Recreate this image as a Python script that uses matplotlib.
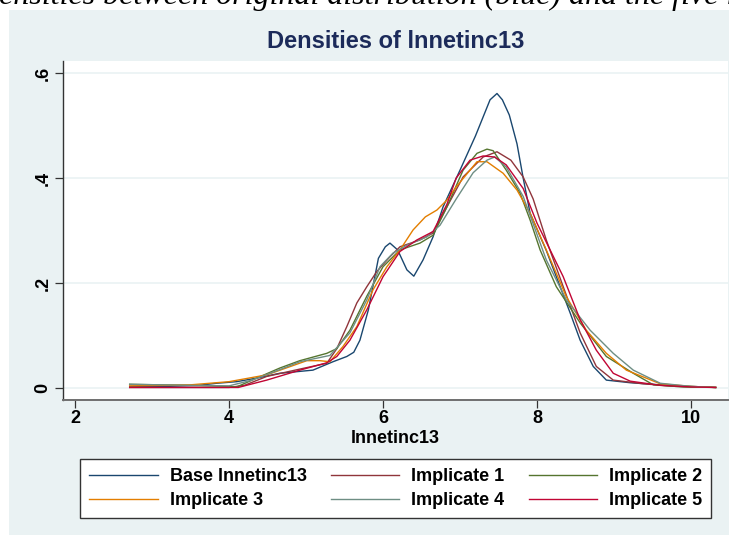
import matplotlib
matplotlib.use("Agg")
import matplotlib.pyplot as plt
from matplotlib.patches import Rectangle

plt.rcParams['font.family'] = ['Liberation Sans', 'DejaVu Sans']

# ---------------- data ----------------
base_x = [2.71, 3.2, 3.6, 3.84, 4.1, 4.4, 4.66, 5.09, 5.35, 5.53, 5.62, 5.70, 5.81, 5.94,
          6.03, 6.09, 6.19, 6.31, 6.40, 6.52, 6.65, 6.78, 7.0, 7.2, 7.39, 7.48, 7.55, 7.64,
          7.74, 7.82, 7.91, 8.12, 8.30, 8.43, 8.56, 8.73, 8.9, 9.21, 9.6, 10.0, 10.32]
base_y = [0.003, 0.003, 0.005, 0.009, 0.012, 0.02, 0.028, 0.034, 0.05, 0.06, 0.068, 0.091,
          0.149, 0.247, 0.269, 0.276, 0.263, 0.225, 0.213, 0.244, 0.288, 0.345, 0.415, 0.48,
          0.549, 0.561, 0.549, 0.52, 0.465, 0.40, 0.333, 0.262, 0.193, 0.143, 0.091, 0.041,
          0.015, 0.01, 0.006, 0.003, 0.001]

imp1_x = [2.71, 3.5, 4.0, 4.2, 4.49, 4.92, 5.27, 5.40, 5.53, 5.66, 5.79, 5.92, 6.09, 6.22,
          6.48, 6.65, 6.83, 7.04, 7.3, 7.48, 7.66, 7.82, 7.95, 8.12, 8.34, 8.56, 8.77, 8.99,
          9.38, 9.8, 10.32]
imp1_y = [0.001, 0.001, 0.001, 0.005, 0.022, 0.036, 0.047, 0.075, 0.117, 0.162, 0.193, 0.222,
          0.25, 0.269, 0.282, 0.295, 0.345, 0.402, 0.44, 0.45, 0.434, 0.402, 0.36, 0.282,
          0.193, 0.105, 0.041, 0.015, 0.008, 0.003, 0.001]

imp2_x = [2.71, 3.5, 4.0, 4.1, 4.3, 4.66, 4.92, 5.27, 5.40, 5.57, 5.79, 6.0, 6.22, 6.48,
          6.65, 6.83, 7.04, 7.22, 7.35, 7.43, 7.6, 7.78, 7.91, 8.04, 8.25, 8.56, 8.9, 9.25,
          9.51, 9.9, 10.32]
imp2_y = [0.007, 0.005, 0.003, 0.002, 0.015, 0.038, 0.052, 0.066, 0.075, 0.11, 0.175, 0.231,
          0.263, 0.276, 0.291, 0.345, 0.415, 0.447, 0.455, 0.452, 0.415, 0.371, 0.32, 0.263,
          0.193, 0.124, 0.06, 0.028, 0.006, 0.002, 0.001]

imp3_x = [2.71, 3.5, 4.0, 4.49, 5.01, 5.18, 5.31, 5.48, 5.66, 5.87, 6.05, 6.22, 6.39, 6.55,
          6.70, 6.83, 6.95, 7.22, 7.35, 7.56, 7.74, 7.91, 8.12, 8.38, 8.64, 8.9, 9.16, 9.6,
          10.0, 10.32]
imp3_y = [0.004, 0.006, 0.012, 0.025, 0.052, 0.052, 0.05, 0.079, 0.117, 0.187, 0.231, 0.263,
          0.301, 0.326, 0.339, 0.358, 0.383, 0.431, 0.431, 0.409, 0.377, 0.333, 0.263, 0.174,
          0.11, 0.066, 0.034, 0.008, 0.003, 0.001]

imp4_x = [2.71, 3.5, 4.0, 4.3, 4.66, 4.92, 5.31, 5.57, 5.79, 5.96, 6.13, 6.31, 6.57, 6.74,
          6.95, 7.17, 7.35, 7.45, 7.6, 7.82, 8.12, 8.38, 8.69, 8.99, 9.25, 9.6, 10.0, 10.32]
imp4_y = [0.007, 0.005, 0.004, 0.015, 0.035, 0.05, 0.062, 0.105, 0.168, 0.231, 0.257, 0.272,
          0.288, 0.31, 0.36, 0.41, 0.434, 0.44, 0.421, 0.365, 0.244, 0.168, 0.11, 0.066,
          0.034, 0.009, 0.003, 0.001]

imp5_x = [2.71, 3.5, 4.12, 4.49, 4.92, 5.27, 5.40, 5.57, 5.79, 6.0, 6.22, 6.44, 6.65, 6.83,
          6.95, 7.13, 7.3, 7.45, 7.6, 7.82, 8.0, 8.34, 8.56, 8.77, 8.99, 9.21, 9.6, 10.0, 10.32]
imp5_y = [0.001, 0.001, 0.001, 0.015, 0.034, 0.048, 0.06, 0.091, 0.149, 0.212, 0.26, 0.282,
          0.298, 0.35, 0.40, 0.434, 0.442, 0.44, 0.425, 0.38, 0.314, 0.212, 0.13, 0.072,
          0.028, 0.013, 0.005, 0.002, 0.001]

series_labels = ['Base lnnetinc13', 'Implicate 1', 'Implicate 2',
                 'Implicate 3', 'Implicate 4', 'Implicate 5']
x_ticks = [2, 4, 6, 8, 10]
x_tick_labels = ['2', '4', '6', '8', '10']
y_ticks = [0, 0.2, 0.4, 0.6]
y_tick_labels = ['0', '.2', '.4', '.6']

# ---------------- styling ----------------
colors = ['#1a476f', '#90353b', '#55752f', '#e37e00', '#6e8e84', '#c10534']
W, H = 729, 535
BG = '#EAF2F3'

fig = plt.figure(figsize=(W / 100, H / 100), dpi=100)
fig.patch.set_facecolor('white')
fig.add_artist(Rectangle((9 / W, 0), 1 - 9 / W, 1 - 10 / H, transform=fig.transFigure,
                         facecolor=BG, edgecolor='none', zorder=-1))

# cropped italic caption at the very top (cut off in the reference as well)
fig.text(-1 / W, 1 - 4 / H,
         'ensities between original distribution (blue) and the five imputed distributions',
         family='Liberation Serif', style='italic', fontsize=23, ha='left', va='baseline',
         color='black')

fig.text(396 / W, 1 - 42 / H, 'Densities of lnnetinc13', ha='center', va='center',
         fontsize=17, fontweight='bold', color='#1c2b5a')

ax = fig.add_axes([63.3 / W, 1 - 400 / H, (728 - 63.3) / W, (400 - 61) / H])
ax.set_facecolor('white')

all_x = [base_x, imp1_x, imp2_x, imp3_x, imp4_x, imp5_x]
all_y = [base_y, imp1_y, imp2_y, imp3_y, imp4_y, imp5_y]
handles = []
for xs, ys, c, lab in zip(all_x, all_y, colors, series_labels):
    ln, = ax.plot(xs, ys, color=c, lw=1.0, label=lab)
    handles.append(ln)

ax.set_xlim(1.848, 10.48)
ax.set_ylim(-0.0229, 0.6229)
ax.set_xticks(x_ticks)
ax.set_xticklabels(x_tick_labels, fontsize=13, fontweight='bold')
ax.set_yticks(y_ticks)
ax.set_yticklabels(y_tick_labels, fontsize=13, fontweight='bold', rotation=90, va='center')
ax.tick_params(axis='both', direction='out', length=5.5, width=0.9, color='#333333', pad=3)
ax.tick_params(axis='x', pad=2)
ax.yaxis.grid(True, color=BG, lw=1.2)
ax.set_axisbelow(True)
for s in ['top', 'right']:
    ax.spines[s].set_visible(False)
ax.spines['left'].set_color('#333333')
ax.spines['bottom'].set_color('#6f6f6f')
ax.spines['left'].set_linewidth(1.0)
ax.spines['bottom'].set_linewidth(1.4)
ax.set_xlabel('lnnetinc13', fontsize=13, fontweight='bold', labelpad=2)

# legend (3 columns, row-wise order)
order = [0, 3, 1, 4, 2, 5]
leg = fig.legend([handles[i] for i in order], [series_labels[i] for i in order],
                 loc='upper left', bbox_to_anchor=(80 / W, 1 - 459 / H), borderaxespad=0,
                 ncol=3, prop={'weight': 'bold', 'size': 13},
                 handlelength=3.8, handletextpad=0.67, columnspacing=1.33,
                 borderpad=0.5, labelspacing=0.38, fancybox=False, framealpha=1,
                 edgecolor='#333333', facecolor='white')
leg.get_frame().set_linewidth(1.0)

fig.savefig('out.png', dpi=100, facecolor='white')
